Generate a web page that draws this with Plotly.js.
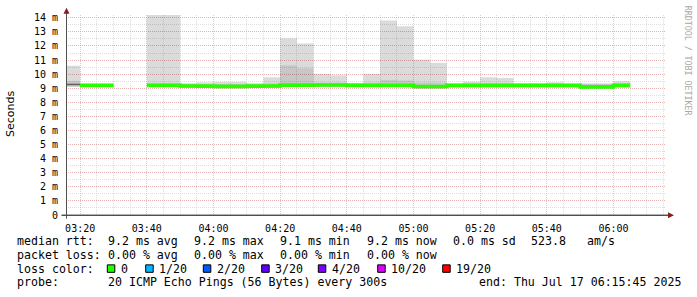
<!DOCTYPE html>
<html>
<head>
<meta charset="utf-8">
<script src="https://cdn.plot.ly/plotly-3.0.1.min.js"></script>
<style>html,body{margin:0;padding:0;background:#fff;}#chart{width:697px;height:297px;}</style>
</head>
<body>
<div id="chart"></div>
<script>
// ---- data (5-minute bins, start time of each bin) ----
const day = '2025-07-17';
const binStart = ['03:15','03:20','03:25','03:30','03:35','03:40','03:45','03:50','03:55','04:00',
                  '04:05','04:10','04:15','04:20','04:25','04:30','04:35','04:40','04:45','04:50',
                  '04:55','05:00','05:05','05:10','05:15','05:20','05:25','05:30','05:35','05:40',
                  '05:45','05:50','05:55','06:00'];
// smoke: highest ping (ms)
const smokeMax = [10.6, 9.32, 9.32, null, null, 14.2, 14.2, 9.36, 9.42, 9.45,
                  9.45, 9.36, 9.78, 12.54, 12.18, 10.02, 9.92, 9.38, 10.02, 13.81,
                  13.41, 11.03, 10.8, 9.35, 9.47, 9.78, 9.73, 9.35, 9.35, 9.42,
                  9.33, 9.35, 9.35, 9.5];
// smoke: upper edge of the denser band (ms)
const smokeDense = [9.52, 9.28, 9.28, null, null, 9.35, 9.35, 9.3, 9.3, 9.3,
                    9.3, 9.3, 9.35, 10.63, 10.42, 9.4, 9.4, 9.32, 9.4, 9.59,
                    9.55, 9.4, 9.4, 9.3, 9.32, 9.35, 9.35, 9.3, 9.3, 9.32,
                    9.3, 9.3, 9.3, 9.35];
// smoke: lowest ping (ms)
const smokeMin = [9.1, 9.08, 9.08, null, null, 9.08, 9.08, 9.02, 9.02, 9.0,
                  9.0, 9.02, 9.02, 9.08, 9.08, 9.08, 9.08, 9.08, 9.08, 9.08,
                  9.08, 8.98, 8.98, 9.05, 9.05, 9.05, 9.05, 9.05, 9.05, 9.05,
                  9.05, 8.98, 8.98, 9.05];
// median rtt (ms)
const median = [9.27, 9.2, 9.2, null, null, 9.2, 9.2, 9.16, 9.15, 9.13,
                9.13, 9.15, 9.16, 9.22, 9.22, 9.23, 9.23, 9.2, 9.2, 9.2,
                9.2, 9.12, 9.12, 9.2, 9.2, 9.2, 9.2, 9.2, 9.2, 9.2,
                9.2, 9.1, 9.1, 9.2];
// packet loss (pings lost of 20); null = unknown
const loss = [null, 0, 0, null, null, 0, 0, 0, 0, 0,
              0, 0, 0, 0, 0, 0, 0, 0, 0, 0,
              0, 0, 0, 0, 0, 0, 0, 0, 0, 0,
              0, 0, 0, 0];
const yTickVals = [0,1,2,3,4,5,6,7,8,9,10,11,12,13,14];
const yTickText = ['0','1 m','2 m','3 m','4 m','5 m','6 m','7 m','8 m','9 m','10 m','11 m','12 m','13 m','14 m'];
const lossLegend = ['0','1/20','2/20','3/20','4/20','10/20','19/20'];
const lossColors = ['#26ff00','#00b8ff','#0059ff','#5e00ff','#7e00ff','#dd00ff','#ff0000'];
const statsRtt = ['median rtt:','9.2 ms avg','9.2 ms max','9.1 ms min','9.2 ms now','0.0 ms sd','523.8','am/s'];
const statsLoss = ['packet loss:','0.00 % avg','0.00 % max','0.00 % min','0.00 % now'];
const probeText = ['probe:','20 ICMP Echo Pings (56 Bytes) every 300s','end: Thu Jul 17 06:15:45 2025'];

// ---- helpers ----
const STEP_MS = 300000;
function ts(hm){ return day + ' ' + hm + ':00'; }
function addMin(hm, m){
  let [h, mm] = hm.split(':').map(Number);
  let t = h*60 + mm + m;
  return String(Math.floor(t/60)).padStart(2,'0') + ':' + String(t%60).padStart(2,'0');
}
// plot area in pixels
const L = 66, R = 666, T = 14.7, B = 215.3;
const W = 697, H = 297;
function px(x){ return (x - L)/(R - L); }
function py(y){ return (B - y)/(B - T); }

const idx = binStart.map((_, i) => i).filter(i => smokeMax[i] !== null);

const traces = [];
traces.push({
  type: 'bar', x: idx.map(i => ts(binStart[i])), base: idx.map(i => smokeMin[i]),
  y: idx.map(i => smokeMax[i] - smokeMin[i]), width: STEP_MS, offset: 0,
  marker: {color: 'rgba(0,0,0,0.14)', line: {width: 0}}, hoverinfo: 'skip', showlegend: false
});
traces.push({
  type: 'bar', x: idx.map(i => ts(binStart[i])), base: idx.map(i => smokeMin[i]),
  y: idx.map(i => smokeDense[i] - smokeMin[i]), width: STEP_MS, offset: 0,
  marker: {color: 'rgba(0,0,0,0.09)', line: {width: 0}}, hoverinfo: 'skip', showlegend: false
});

// median line runs, split by loss state
function runs(pred){
  const xs = [], ys = [];
  for (let i = 0; i < binStart.length; i++){
    if (median[i] === null || !pred(i)) continue;
    xs.push(ts(binStart[i])); ys.push(median[i]);
    const nxt = i + 1;
    if (nxt >= binStart.length || median[nxt] === null || !pred(nxt)){
      xs.push(ts(addMin(binStart[i], 5))); ys.push(median[i]);
      xs.push(null); ys.push(null);
    }
  }
  return {xs, ys};
}
const unk = runs(i => loss[i] === null);
traces.push({type: 'scatter', mode: 'lines', x: unk.xs, y: unk.ys,
  line: {shape: 'hv', color: '#606060', width: 1.5}, connectgaps: false, hoverinfo: 'skip', showlegend: false});
const ok = runs(i => loss[i] === 0);
traces.push({type: 'scatter', mode: 'lines', x: ok.xs, y: ok.ys,
  line: {shape: 'hv', color: lossColors[0], width: 3.6}, connectgaps: false, hoverinfo: 'skip', showlegend: false});

// ---- layout ----
const mono = 'DejaVu Sans Mono';
const annotations = [];
const shapes = [];
function txt(x, y, s, opts){
  annotations.push(Object.assign({xref: 'paper', yref: 'paper', x: px(x), y: py(y), text: s,
    showarrow: false, xanchor: 'left', yanchor: 'middle', borderpad: 0,
    font: {family: mono, size: 11.6, color: '#000'}}, opts || {}));
}
const rttX = [16, 107.3, 193.3, 279, 366, 451.7, 530, 586];
statsRtt.forEach((s, i) => txt(rttX[i], 241, s));
statsLoss.forEach((s, i) => txt(rttX[i], 255.5, s));
txt(16, 269.3, 'loss color:');
const sqX = [107.3, 145.7, 203.3, 261.7, 318.3, 377.7, 442.7];
lossLegend.forEach((s, i) => {
  shapes.push({type: 'rect', xref: 'paper', yref: 'paper', x0: px(sqX[i]), x1: px(sqX[i] + 7.5),
    y0: py(272.8), y1: py(265.3), fillcolor: lossColors[i], line: {color: '#000', width: 1}});
  txt(sqX[i] + 12.7, 269.3, s);
});
const probeX = [16, 107.3, 478.3];
probeText.forEach((s, i) => txt(probeX[i], 283, s));

annotations.push({xref: 'paper', yref: 'paper', x: px(10), y: py(114), text: 'Seconds', showarrow: false,
  textangle: -90, xanchor: 'center', yanchor: 'middle', font: {family: 'DejaVu Sans', size: 11, color: '#000'}});
annotations.push({xref: 'paper', yref: 'paper', x: px(687.5), y: py(60), text: 'RRDTOOL / TOBI OETIKER', showarrow: false,
  textangle: 90, xanchor: 'center', yanchor: 'middle', font: {family: mono, size: 8.3, color: '#a8a8a8'}});

// axis lines + arrows
shapes.push({type: 'line', xref: 'paper', yref: 'paper', x0: px(61.5), x1: px(669), y0: py(215.5), y1: py(215.5), line: {color: '#000', width: 1}});
shapes.push({type: 'line', xref: 'paper', yref: 'paper', x0: px(66.5), x1: px(66.5), y0: py(219), y1: py(12), line: {color: '#505050', width: 1}});
shapes.push({type: 'path', xref: 'paper', yref: 'paper',
  path: `M ${px(668)} ${py(212.5)} L ${px(674)} ${py(215.5)} L ${px(668)} ${py(218.5)} Z`,
  fillcolor: '#8b1c1c', line: {width: 0}});
shapes.push({type: 'path', xref: 'paper', yref: 'paper',
  path: `M ${px(63.5)} ${py(13.5)} L ${px(66.5)} ${py(7.5)} L ${px(69.5)} ${py(13.5)} Z`,
  fillcolor: '#8b1c1c', line: {width: 0}});

const majorGrid = 'rgba(235,150,150,0.6)';
const minorGrid = 'rgba(200,200,200,0.6)';
const layout = {
  width: W, height: H, autosize: false,
  margin: {l: L, r: W - R, t: T, b: H - B, pad: 0},
  paper_bgcolor: '#fff', plot_bgcolor: '#fff',
  barmode: 'overlay', showlegend: false,
  xaxis: {
    type: 'date', range: [day + ' 03:15:45', day + ' 06:15:45'],
    tickmode: 'linear', tick0: ts('03:20'), dtick: 1200000, tickformat: '%H:%M',
    showgrid: true, gridcolor: majorGrid, griddash: '1px,1px', gridwidth: 1,
    minor: {tick0: ts('03:20'), dtick: STEP_MS, showgrid: true, gridcolor: minorGrid, griddash: '1px,1px', gridwidth: 1},
    showline: false, zeroline: false, ticks: 'outside', ticklen: 4, tickcolor: 'rgba(0,0,0,0)',
    tickfont: {family: mono, size: 10, color: '#000'}, fixedrange: true
  },
  yaxis: {
    range: [0, 14.2], tickmode: 'array', tickvals: yTickVals, ticktext: yTickText,
    showgrid: true, gridcolor: majorGrid, griddash: '1px,1px', gridwidth: 1,
    minor: {tick0: 0, dtick: 0.5, showgrid: true, gridcolor: minorGrid, griddash: '1px,1px', gridwidth: 1},
    showline: false, zeroline: false, ticks: 'outside', ticklen: 5, tickcolor: 'rgba(0,0,0,0)',
    tickfont: {family: mono, size: 10, color: '#000'}, fixedrange: true
  },
  annotations: annotations, shapes: shapes
};
Plotly.newPlot('chart', traces, layout, {staticPlot: true, displayModeBar: false});
</script>
</body>
</html>
